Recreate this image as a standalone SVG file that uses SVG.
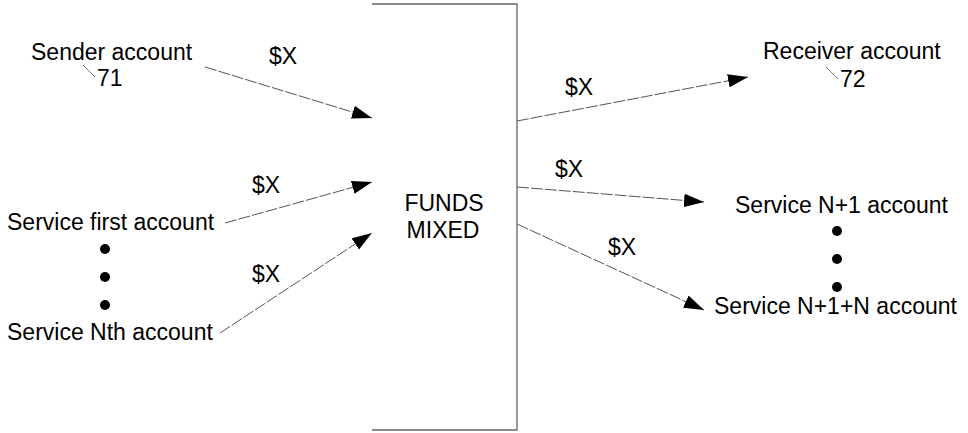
<svg xmlns="http://www.w3.org/2000/svg" width="968" height="433" viewBox="0 0 968 433">
<defs>
<style>
text{font-family:"Liberation Sans",Arial,sans-serif;font-size:23px;fill:#000}
.c{stroke:#555;stroke-width:1;fill:none;stroke-dasharray:12,2}
.l{stroke:#777;stroke-width:1;fill:none}
.box{stroke:#666;stroke-width:1.3;fill:none}
</style>
<marker id="ah" markerUnits="userSpaceOnUse" markerWidth="20" markerHeight="14" refX="18" refY="6" orient="auto" viewBox="0 0 18 12">
<path d="M0,0 L18,6 L0,12 z" fill="#000"/>
</marker>
</defs>
<rect width="968" height="433" fill="#fff"/>
<g id="mix">
<path class="box" d="M372,4 H517 V430 H372"/>
<text x="444" y="211" text-anchor="middle">FUNDS</text>
<text x="443" y="238" text-anchor="middle">MIXED</text>
</g>
<g id="sender">
<text x="31" y="60">Sender account</text>
<text x="97" y="86">71</text>
<line class="l" x1="83" y1="65" x2="95" y2="77"/>
</g>
<g id="first">
<text x="7" y="230">Service first account</text>
<circle cx="105" cy="249" r="5"/>
<circle cx="105" cy="277" r="5"/>
<circle cx="105" cy="305" r="5"/>
</g>
<g id="nth">
<text x="7" y="340">Service Nth account</text>
</g>
<g id="receiver">
<text x="763" y="59">Receiver account</text>
<text x="840" y="87">72</text>
<line class="l" x1="826" y1="67" x2="838" y2="79"/>
</g>
<g id="n1">
<text x="735" y="213">Service N+1 account</text>
<circle cx="837" cy="231" r="5"/>
<circle cx="837" cy="259" r="5"/>
<circle cx="837" cy="287" r="5"/>
</g>
<g id="n1n">
<text x="714" y="314">Service N+1+N account</text>
</g>
<g id="connectors">
<line class="c" x1="205" y1="67" x2="372" y2="118" marker-end="url(#ah)"/>
<line class="c" x1="225" y1="223" x2="372" y2="182" marker-end="url(#ah)"/>
<line class="c" x1="220" y1="333" x2="372" y2="233" marker-end="url(#ah)"/>
<line class="c" x1="517" y1="121" x2="748" y2="77" marker-end="url(#ah)"/>
<line class="c" x1="517" y1="187" x2="704" y2="202" marker-end="url(#ah)"/>
<line class="c" x1="517" y1="224" x2="704" y2="310" marker-end="url(#ah)"/>
<text x="269" y="64">$X</text>
<text x="252" y="193">$X</text>
<text x="252" y="282">$X</text>
<text x="565" y="95">$X</text>
<text x="555" y="177">$X</text>
<text x="608" y="255">$X</text>
</g>
</svg>
